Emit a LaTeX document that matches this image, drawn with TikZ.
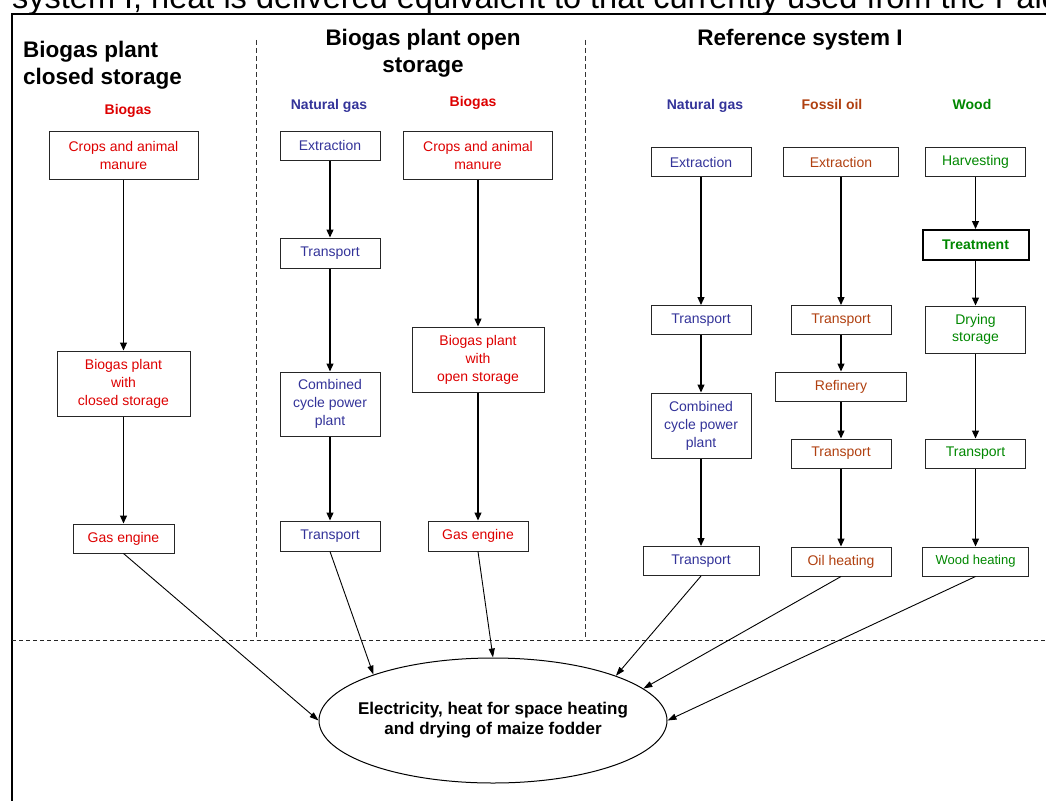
\documentclass[tikz,border=0pt]{standalone}
\usepackage{fontspec}
\setmainfont{Liberation Sans}
\usetikzlibrary{arrows.meta,shapes.geometric}
\definecolor{cred}{RGB}{221,0,0}
\definecolor{cblue}{RGB}{51,51,153}
\definecolor{cbrown}{RGB}{176,64,16}
\definecolor{cgreen}{RGB}{0,135,0}
\tikzset{
  box/.style={draw=black!85, line width=1pt, inner sep=0pt, align=center,
    font=\fontsize{14}{18}\selectfont},
  flow/.style={line width=1.2pt, -{Triangle[length=8pt,width=7pt]}},
  feed/.style={line width=0.9pt, -{Triangle[length=9pt,width=6pt]}},
  titletext/.style={inner sep=0pt, font=\bfseries\fontsize{22.5}{26.5}\selectfont},
  colhead/.style={inner sep=0pt, anchor=base, font=\bfseries\fontsize{14}{16}\selectfont},
  vsep/.style={line width=0.8pt, black!80, dash pattern=on 5pt off 3pt},
  hsep/.style={line width=1pt, black!85, dash pattern=on 4pt off 3pt},
}
\begin{document}
\begin{tikzpicture}[x=1pt,y=-1pt]
\useasboundingbox (0,0) rectangle (1046,800);
\clip (0,0) rectangle (1046,800);

% cut-off running text at the top
\node[anchor=base west, inner sep=0pt, font=\fontsize{32.5}{36}\selectfont] (toptext) at (12,9)
  {system I, heat is delivered equivalent to that currently used from the Palde};

% frame
\draw[line width=2.2pt, line join=miter] (1052,14) -- (12,14) -- (12,806);

% separators
\draw[vsep] (256,40) -- (256,640);
\draw[vsep] (585,40) -- (585,640);
\draw[hsep] (12,640) -- (1046,640);

% titles
\node[titletext, anchor=north west, align=left] (t1) at (23,41) {Biogas plant\\closed storage};
\node[titletext, anchor=north, align=center] (t2) at (423,29) {Biogas plant open\\storage};
\node[titletext, anchor=base] (t3) at (800,46) {Reference system I};

% column headings
\node[colhead, text=cred] (h1) at (128,114) {Biogas};
\node[colhead, text=cblue] (h2) at (329,109) {Natural gas};
\node[colhead, text=cred] (h3) at (473,106) {Biogas};
\node[colhead, text=cblue] (h4) at (705,109) {Natural gas};
\node[colhead, text=cbrown] (h5) at (832,109) {Fossil oil};
\node[colhead, text=cgreen] (h6) at (972,109) {Wood};

% column 1
\node[box, text=cred, minimum width=149pt, minimum height=48pt] (c1a) at (123.5,155) {Crops and animal\\manure};
\node[box, text=cred, minimum width=133pt, minimum height=65pt] (c1b) at (123.5,383.5) {Biogas plant\\with\\closed storage};
\node[box, text=cred, minimum width=101pt, minimum height=29pt] (c1c) at (123.5,538.5) {Gas engine};
% column 2
\node[box, text=cblue, minimum width=100pt, minimum height=29pt] (c2a) at (330,145.5) {Extraction};
\node[box, text=cblue, minimum width=100pt, minimum height=30pt] (c2b) at (330,253) {Transport};
\node[box, text=cblue, minimum width=100pt, minimum height=64pt] (c2c) at (330,404) {Combined\\cycle power\\plant};
\node[box, text=cblue, minimum width=100pt, minimum height=30pt] (c2d) at (330,536) {Transport};
% column 3
\node[box, text=cred, minimum width=149pt, minimum height=48pt] (c3a) at (478,155) {Crops and animal\\manure};
\node[box, text=cred, minimum width=132pt, minimum height=65pt] (c3b) at (478,359.5) {Biogas plant\\with\\open storage};
\node[box, text=cred, minimum width=100pt, minimum height=30pt] (c3c) at (478,536) {Gas engine};
% column 4
\node[box, text=cblue, minimum width=100pt, minimum height=29pt] (c4a) at (701,162) {Extraction};
\node[box, text=cblue, minimum width=100pt, minimum height=29pt] (c4b) at (701,320) {Transport};
\node[box, text=cblue, minimum width=100pt, minimum height=65pt] (c4c) at (701,425.5) {Combined\\cycle power\\plant};
\node[box, text=cblue, minimum width=116pt, minimum height=29pt] (c4d) at (701,561) {Transport};
% column 5
\node[box, text=cbrown, minimum width=115pt, minimum height=29pt] (c5a) at (841,162) {Extraction};
\node[box, text=cbrown, minimum width=100pt, minimum height=29pt] (c5b) at (841,320) {Transport};
\node[box, text=cbrown, minimum width=131pt, minimum height=29pt] (c5c) at (841,386.5) {Refinery};
\node[box, text=cbrown, minimum width=100pt, minimum height=29pt] (c5d) at (841,453.5) {Transport};
\node[box, text=cbrown, minimum width=100pt, minimum height=29pt] (c5e) at (841,561.5) {Oil heating};
% column 6
\node[box, text=cgreen, minimum width=100pt, minimum height=29pt] (c6a) at (975.5,162) {Harvesting};
\node[box, text=cgreen, draw=black, line width=2pt, font=\bfseries\fontsize{14}{18}\selectfont, minimum width=106pt, minimum height=30pt] (c6b) at (975.5,245) {Treatment};
\node[box, text=cgreen, minimum width=100pt, minimum height=47pt, font=\fontsize{14}{17}\selectfont] (c6c) at (975.5,329.5) {Drying\\storage};
\node[box, text=cgreen, minimum width=100pt, minimum height=29pt] (c6d) at (975.5,453.5) {Transport};
\node[box, text=cgreen, minimum width=106pt, minimum height=29pt, font=\fontsize{13}{16}\selectfont] (c6e) at (975.5,561.5) {Wood heating};

% target
\node[draw, ellipse, line width=1pt, minimum width=348pt, minimum height=125pt,
  inner xsep=-20pt, inner ysep=0pt,
  align=center, font=\bfseries\fontsize{17}{20}\selectfont] (el) at (493,720.5)
  {Electricity, heat for space heating\\and drying of maize fodder};

% vertical flows
\draw[flow] (c1a) -- (c1b);
\draw[flow] (c1b) -- (c1c);
\draw[flow] (c2a) -- (c2b);
\draw[flow] (c2b) -- (c2c);
\draw[flow] (c2c) -- (c2d);
\draw[flow] (c3a) -- (c3b);
\draw[flow] (c3b) -- (c3c);
\draw[flow] (c4a) -- (c4b);
\draw[flow] (c4b) -- (c4c);
\draw[flow] (c4c) -- (c4d);
\draw[flow] (c5a) -- (c5b);
\draw[flow] (c5b) -- (c5c);
\draw[flow] (c5c) -- (c5d);
\draw[flow] (c5d) -- (c5e);
\draw[flow] (c6a) -- (c6b);
\draw[flow] (c6b) -- (c6c);
\draw[flow] (c6c) -- (c6d);
\draw[flow] (c6d) -- (c6e);

% feeds into the target
\draw[feed] (c1c.south) -- (el.180);
\draw[feed] (c2d.south) -- (el.159.3);
\draw[feed] (c3c.south) -- (el.90);
\draw[feed] (c4d.south) -- (el.20.5);
\draw[feed] (c5e.south) -- (el.12.2);
\draw[feed] (c6e.south) -- (el.0);
\end{tikzpicture}
\end{document}
